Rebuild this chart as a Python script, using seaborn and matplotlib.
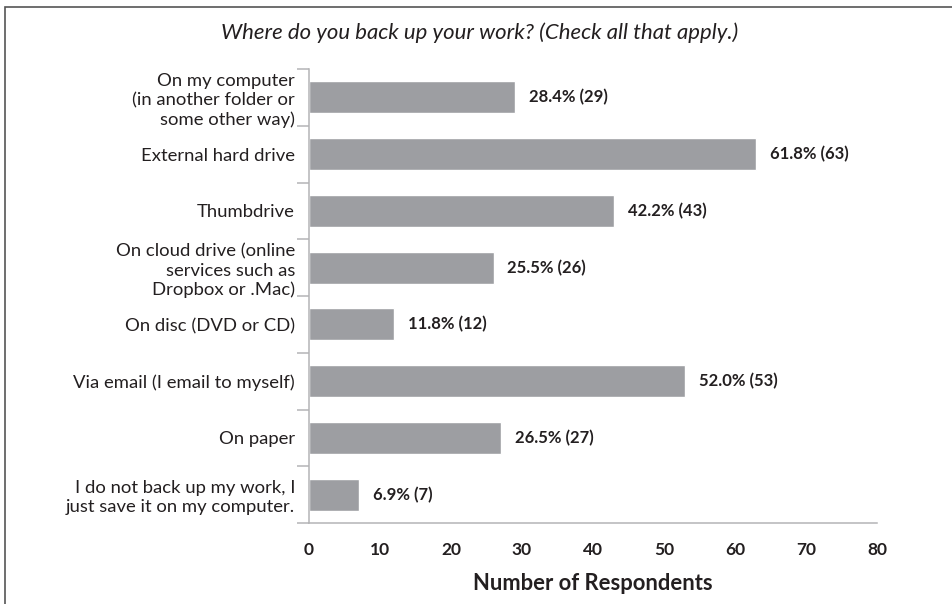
import matplotlib
matplotlib.use("Agg")
import matplotlib.pyplot as plt
import seaborn as sns
from matplotlib.patches import Rectangle

categories = [
    "On my computer\n(in another folder or\nsome other way)",
    "External hard drive",
    "Thumbdrive",
    "On cloud drive (online\nservices such as\nDropbox or .Mac)",
    "On disc (DVD or CD)",
    "Via email (I email to myself)",
    "On paper",
    "I do not back up my work, I\njust save it on my computer.",
]
counts = [29, 63, 43, 26, 12, 53, 27, 7]
percents = [28.4, 61.8, 42.2, 25.5, 11.8, 52.0, 26.5, 6.9]

sns.set_style("white")
plt.rcParams["font.family"] = ["Lato", "DejaVu Sans"]

bar_color = "#9d9ea2"
axis_color = "#b4b4b6"
text_color = "#231f20"

fig = plt.figure(figsize=(9.52, 6.04), dpi=100)
ax = fig.add_axes([309 / 952, 1 - 523 / 604, (877 - 309) / 952, (523 - 69) / 604])

sns.barplot(x=counts, y=categories, orient="h", color=bar_color,
            saturation=1, width=0.56, ax=ax)

labels = [f"{p:.1f}% ({c})" for p, c in zip(percents, counts)]
ax.bar_label(ax.containers[0], labels=labels, padding=10,
             fontsize=12, fontweight="bold", color=text_color)

ax.set_xlim(0, 80)
ax.set_ylim(len(categories) - 0.5, -0.5)
ax.set_xticks(range(0, 81, 10))
ax.set_yticks(range(len(categories)))
ax.set_yticklabels(categories, fontsize=13.3, color=text_color, linespacing=1.25)
ax.set_yticks([i - 0.5 for i in range(len(categories) + 1)], minor=True)

for lbl in ax.get_xticklabels():
    lbl.set_fontweight("bold")
ax.tick_params(axis="x", direction="inout", length=13, width=1.1,
               color=axis_color, labelsize=12.5, labelcolor=text_color, pad=7)
ax.tick_params(axis="y", which="major", length=0, pad=10)
ax.tick_params(axis="y", which="minor", left=True, direction="out",
               length=8.6, width=1.1, color=axis_color)

for side in ["top", "right"]:
    ax.spines[side].set_visible(False)
for side in ["left", "bottom"]:
    ax.spines[side].set_color(axis_color)
    ax.spines[side].set_linewidth(1.1)

ax.set_xlabel("Number of Respondents", fontsize=15.8, fontweight="bold",
              color=text_color, labelpad=11)
ax.set_ylabel("")

fig.text(0.504, 1 - 33 / 604, "Where do you back up your work? (Check all that apply.)",
         ha="center", va="center", fontsize=15.9, style="italic", color=text_color)

frame = Rectangle((4.5 / 952, -0.05), 1.1, 1 - 6.5 / 604 + 0.05,
                  transform=fig.transFigure, fill=False, edgecolor="#555555",
                  linewidth=1.2, clip_on=False)
fig.patches.append(frame)

fig.savefig("out.png", dpi=100)
